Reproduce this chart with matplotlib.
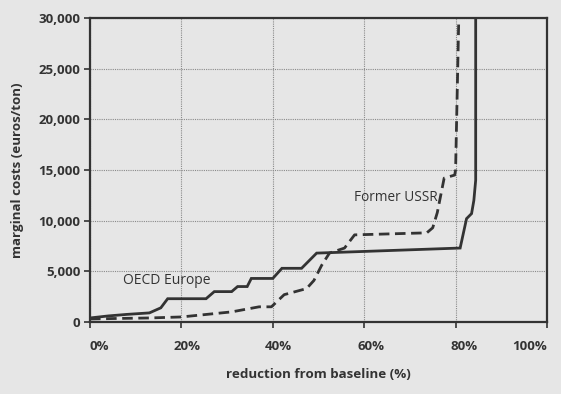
import matplotlib
matplotlib.use("Agg")
import matplotlib.pyplot as plt
from matplotlib.transforms import ScaledTranslation

oecd_x = [0, 4, 8, 13, 15.5, 17, 25.4, 27.2, 31, 32.3, 34.4, 35.3, 40, 42, 46.3, 49.6, 81, 82.4, 83.5, 84, 84.4, 84.4]
oecd_y = [400, 600, 750, 900, 1400, 2300, 2300, 3000, 3000, 3500, 3500, 4300, 4300, 5300, 5300, 6800, 7300, 10200, 10700, 12000, 14000, 30000]

ussr_x = [0, 6, 13, 20, 31, 37, 39.7, 42.5, 47.4, 49, 50.7, 52.4, 55.7, 57.9, 73.7, 75, 76, 77.5, 79.8, 80, 80.7]
ussr_y = [300, 350, 400, 500, 1000, 1500, 1500, 2700, 3300, 4100, 5600, 6800, 7300, 8600, 8800, 9300, 10800, 14200, 14500, 15000, 30000]

x_ticks = [0, 20, 40, 60, 80, 100]
x_labels = ["0%", "20%", "40%", "60%", "80%", "100%"]
y_ticks = [0, 5000, 10000, 15000, 20000, 25000, 30000]
y_labels = ["0", "5,000", "10,000", "15,000", "20,000", "25,000", "30,000"]

bg = "#e6e6e6"
dark = "#333333"
plt.rcParams['font.family'] = ['Open Sans', 'DejaVu Sans']

fig = plt.figure(figsize=(5.61, 3.94), dpi=100, facecolor=bg)
ax = fig.add_axes([0.1604, 0.1827, 0.8146, 0.7716])
ax.set_facecolor(bg)

ax.plot(oecd_x, oecd_y, color=dark, lw=2.0, solid_joinstyle='miter')
ax.plot(ussr_x, ussr_y, color=dark, lw=2.0, linestyle=(0, (3.8, 2.0)))

ax.set_xlim(0, 100)
ax.set_ylim(0, 30000)
ax.set_xticks(x_ticks)
ax.set_xticklabels(x_labels, fontsize=9.5, fontweight='bold', color=dark)
ax.set_yticks(y_ticks)
ax.set_yticklabels(y_labels, fontsize=9.5, fontweight='bold', color=dark)
ax.tick_params(axis='both', direction='out', length=4, width=1.2, color=dark)
ax.tick_params(axis='x', pad=9)
ax.tick_params(axis='y', pad=3)

# horizontal offsets of the x tick labels, as in the reference
offs = [0, 6, 6, 7, 8, 0]
has = ['left', 'center', 'center', 'center', 'center', 'right']
for lab, o, h in zip(ax.get_xticklabels(), offs, has):
    lab.set_ha(h)
    lab.set_transform(lab.get_transform() + ScaledTranslation(o / 100, 0, fig.dpi_scale_trans))

ax.grid(True, color='#8a8a8a', linestyle=(0, (1, 1)), linewidth=0.8)
ax.set_axisbelow(True)
for s in ax.spines.values():
    s.set_color(dark)
    s.set_linewidth(1.6)

ax.set_xlabel("reduction from baseline (%)", fontsize=9.6, fontweight='bold', color=dark, labelpad=11)
ax.set_ylabel("marginal costs (euros/ton)", fontsize=9.6, fontweight='bold', color=dark, labelpad=10)

ax.text(7.3, 4100, "OECD Europe", fontsize=10, color=dark, va='center', ha='left')
ax.text(57.8, 12300, "Former USSR", fontsize=9.8, color=dark, va='center', ha='left')

fig.savefig("out.png", dpi=100, facecolor=bg)
